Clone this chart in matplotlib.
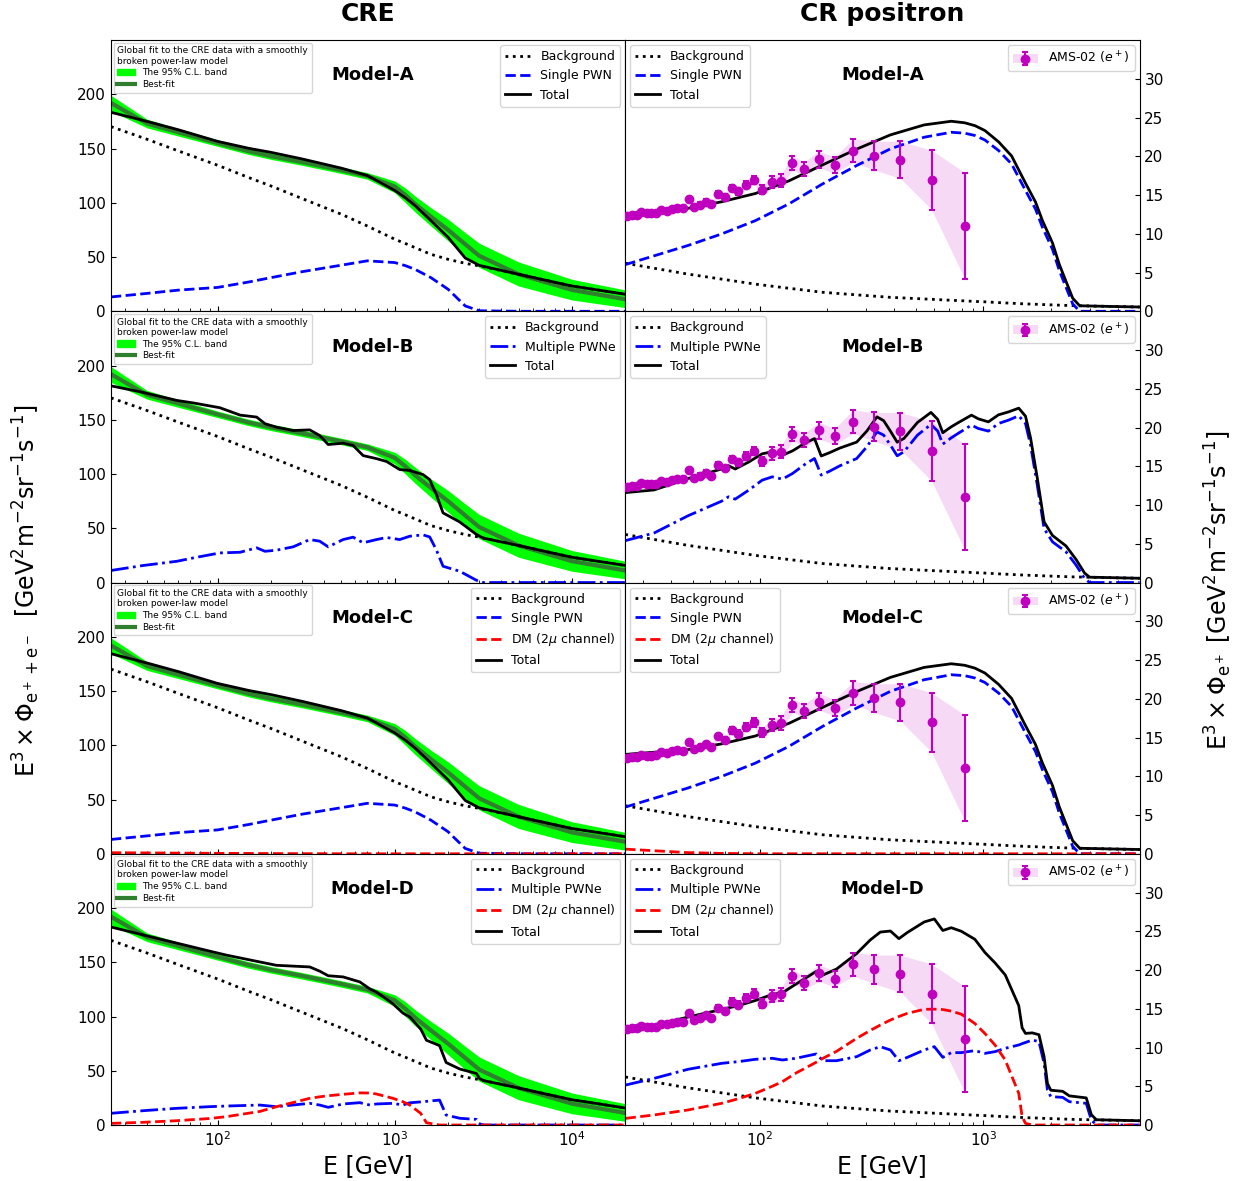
import matplotlib.pyplot as plt
import numpy as np
from matplotlib.patches import Patch
from matplotlib.lines import Line2D

# ---------------- CRE column (e+ + e-) ----------------
# smooth grid used for background, single PWN, DM (Model-C) and the global fit
e_cre = np.array([25, 40, 60, 100, 150, 200, 300, 500, 700, 1000, 1150, 1300,
                  1600, 2000, 2500, 3000, 5000, 10000, 20000])
cre_bg = np.array([170.2, 158.5, 147.8, 134.6, 123.2, 115.5, 103.9, 89.4, 78.6,
                   66.4, 62.4, 58.7, 52.5, 47.9, 44.2, 41.8, 34.1, 23.3, 15.7])
cre_pwn = np.array([13.2, 16.5, 19.5, 22.0, 27.0, 31.0, 36.5, 42.5, 46.5, 44.9,
                    42.0, 38.7, 31.0, 20.3, 4.9, 0.5, 0, 0, 0])
cre_dm_c = np.array([1.0, 0.8, 0.6, 0.4, 0.3, 0.2, 0.1, 0, 0, 0, 0, 0, 0, 0, 0,
                     0, 0, 0, 0])
fit_best = np.array([192, 173, 165, 155, 147.5, 143, 137.5, 130, 124.7, 114.9,
                     107, 99, 87.2, 75, 61.8, 51.1, 34.1, 19.7, 11.1])
fit_lo = np.array([184.5, 169, 161.5, 152, 144.5, 140, 134.5, 127, 121.7, 109.3,
                   100, 91.6, 78.6, 64.9, 51, 40.4, 23.3, 10.4, 3.4])
fit_hi = np.array([199, 177, 168.5, 158, 150.5, 146, 140.5, 133, 127.8, 120,
                   113.5, 106.3, 95.5, 84.8, 72.5, 62.7, 45.5, 29.5, 19.7])

# Model-B (multiple PWNe)
e_cre_b = np.array([25, 38, 59, 73, 103, 134, 166, 185, 215, 267, 331, 377, 421,
                    511, 582, 663, 788, 898, 1067, 1216, 1446, 1575, 1718, 1873,
                    2326, 2890, 3150, 5000, 10000, 20000])
cre_pwne_b = np.array([11.1, 15.7, 19.6, 22.7, 27.3, 27.9, 32.0, 28.8, 29.8,
                       32.9, 39.6, 38.1, 32.9, 39.6, 41.8, 36.6, 39.6, 41.5,
                       39.6, 42.7, 43.9, 42.0, 30.0, 15.0, 10.4, 2.1, 0, 0, 0, 0])
cre_bg_b = np.array([170.2, 159.5, 148.2, 142.8, 133.8, 126.4, 120.5, 117.6,
                     113.4, 107.2, 101.1, 97.4, 94.3, 88.8, 84.5, 80.4, 74.6,
                     70.1, 64.5, 60.6, 55.5, 52.8, 51.0, 49.2, 45.4, 42.3, 41.0,
                     34.1, 23.3, 15.7])

# Model-D (multiple PWNe + DM)
e_cre_d = np.array([25, 38, 59, 90, 112, 173, 215, 331, 377, 421, 511, 635, 724,
                    788, 977, 1111, 1216, 1400, 1510, 1790, 1950, 2330, 2890,
                    3020, 3200, 5000, 10000, 20000])
cre_pwne_d = np.array([10.8, 13.2, 15.4, 16.9, 17.5, 18.4, 16.9, 20.0, 18.4,
                       16.3, 19.4, 20.6, 18.4, 19.4, 20.0, 18.4, 20.5, 21.3,
                       21.8, 23.0, 9.2, 6.2, 5.2, 0.9, 0, 0, 0, 0])
cre_dm_d = np.array([1.5, 2.5, 4.0, 6.0, 7.7, 12.5, 16.9, 24.6, 26.0, 27.0,
                     28.3, 29.6, 29.5, 28.6, 24.6, 21.5, 18.4, 10.8, 2.1, 0, 0,
                     0, 0, 0, 0, 0, 0, 0])
cre_bg_d = np.array([170.2, 159.5, 148.2, 137.4, 131.4, 119.4, 113.4, 101.1,
                     97.4, 94.3, 88.8, 81.7, 77.5, 74.6, 67.1, 63.3, 60.6, 56.5,
                     54.2, 50.2, 48.4, 45.4, 42.3, 41.7, 40.8, 34.1, 23.3, 15.7])

# ---------------- positron column ----------------
e_pos = np.array([25, 47.6, 67.5, 95.6, 135, 191, 271, 384, 544, 719, 826, 918,
                  1017, 1171, 1339, 1545, 1712, 1839, 2040, 2189, 2345, 2513,
                  2700, 3500, 5000])
pos_bg = np.array([6.2, 4.8, 4.15, 3.5, 2.97, 2.45, 2.12, 1.8, 1.59, 1.42, 1.34,
                   1.27, 1.22, 1.12, 1.04, 0.95, 0.91, 0.87, 0.82, 0.79, 0.76,
                   0.73, 0.71, 0.64, 0.55])
pos_pwn = np.array([6.02, 8.48, 9.98, 11.7, 13.86, 16.44, 18.8, 20.96, 22.46,
                    23.1, 22.98, 22.68, 22.1, 20.74, 19.0, 15.58, 13.2, 10.84,
                    8.0, 5.25, 3.1, 0.95, 0, 0, 0])
pos_dm_c = np.array([0.6, 0.15, 0.05, 0, 0, 0, 0, 0, 0, 0, 0, 0, 0, 0, 0, 0, 0,
                     0, 0, 0, 0, 0, 0, 0, 0])

e_pos_b = np.array([25, 33.7, 47.7, 56.7, 67.5, 72.4, 77.6, 89.2, 102.5, 113.7,
                    126.3, 140.1, 161.1, 175.7, 188.3, 205.4, 228, 271.4, 301.2,
                    334.4, 358.4, 384.2, 411.9, 441.6, 507.5, 583.3, 625.4,
                    658.8, 718.8, 770.4, 885.4, 949.1, 1053.6, 1169.5, 1298.4,
                    1440.9, 1544.8, 1627.5, 1744.7, 1870.8, 2040, 2345, 2603,
                    2839, 2991, 5000])
pos_pwne_b = np.array([5.4, 6.4, 8.61, 9.55, 10.5, 11.06, 10.76, 11.92, 13.21,
                       13.64, 13.34, 14.07, 15.36, 16.0, 13.86, 14.37, 15.06,
                       16.0, 17.51, 19.45, 19.02, 17.73, 16.35, 16.87, 19.02,
                       20.4, 19.54, 17.86, 18.67, 19.23, 20.31, 19.88, 19.54,
                       20.52, 20.96, 21.51, 20.52, 17.73, 12.56, 6.97, 5.25,
                       3.96, 2.24, 0.52, 0, 0])
pos_bg_b = np.array([6.2, 5.55, 4.8, 4.47, 4.15, 4.02, 3.89, 3.63, 3.4, 3.24,
                     3.08, 2.92, 2.7, 2.57, 2.47, 2.39, 2.29, 2.12, 2.03, 1.93,
                     1.86, 1.8, 1.76, 1.72, 1.63, 1.55, 1.51, 1.47, 1.42, 1.38,
                     1.29, 1.25, 1.19, 1.12, 1.06, 0.99, 0.95, 0.93, 0.9, 0.86,
                     0.82, 0.76, 0.72, 0.70, 0.69, 0.55])

e_pos_d = np.array([25.1, 33.7, 47.7, 67.5, 80.3, 95.6, 113.7, 126.3, 145.1,
                    178.8, 191.7, 220.3, 271.4, 311.9, 346.2, 384.2, 419.2,
                    457.2, 544.0, 603.9, 658.8, 718.8, 797.6, 916.6, 1017.6,
                    1129.6, 1253.7, 1440.9, 1491.9, 1544.8, 1655.8, 1775,
                    1870.8, 1936.4, 2005, 2264.6, 2427.3, 2888.6, 3044, 3206,
                    5000])
pos_pwne_d = np.array([5.16, 6.02, 7.19, 7.96, 8.18, 8.48, 8.61, 8.39, 8.61,
                       9.17, 8.30, 8.30, 8.82, 9.68, 10.11, 9.68, 8.30, 8.73,
                       9.68, 10.11, 8.73, 9.34, 9.34, 9.60, 9.25, 9.47, 9.90,
                       10.33, 10.5, 10.65, 10.97, 10.76, 7.96, 4.52, 3.66, 3.57,
                       3.01, 2.80, 0.65, 0, 0])
pos_dm_d = np.array([0.86, 1.3, 1.94, 2.8, 3.4, 4.09, 5.0, 5.6, 6.7, 8.1, 8.61,
                     9.5, 11.19, 12.2, 12.9, 13.55, 14.0, 14.41, 14.93, 14.95,
                     14.9, 14.7, 14.3, 13.1, 11.8, 10.3, 8.39, 4.09, 1.08, 0.22,
                     0, 0, 0, 0, 0, 0, 0, 0, 0, 0, 0])
pos_bg_d = np.array([6.2, 5.55, 4.8, 4.15, 3.83, 3.5, 3.24, 3.08, 2.87, 2.55,
                     2.45, 2.32, 2.12, 1.99, 1.89, 1.8, 1.75, 1.7, 1.59, 1.53,
                     1.47, 1.42, 1.36, 1.27, 1.21, 1.14, 1.08, 0.99, 0.97, 0.95,
                     0.92, 0.89, 0.86, 0.85, 0.83, 0.78, 0.75, 0.70, 0.69, 0.68,
                     0.55])

# AMS-02 positron data
ams_e = np.array([25.5, 26.9, 28.1, 29.5, 31.2, 32.7, 34.4, 36.3, 38.4, 40.5,
                  42.6, 45.2, 48.0, 50.7, 54.0, 57.3, 60.8, 65.2, 69.9, 74.9,
                  80.3, 87.0, 93.9, 102.5, 112.9, 125, 140, 158, 184, 216, 262,
                  325, 426, 587, 826])
ams_f = np.array([12.35, 12.48, 12.48, 12.78, 12.65, 12.65, 12.69, 13.08, 13.0,
                  13.21, 13.34, 13.30, 14.46, 13.51, 13.77, 14.16, 13.81, 15.15,
                  14.72, 15.92, 15.49, 16.35, 16.95, 15.66, 16.65, 16.87, 19.19,
                  18.37, 19.62, 18.85, 20.74, 20.09, 19.54, 16.95, 11.06])
ams_err = np.array([0.2, 0.2, 0.2, 0.2, 0.2, 0.22, 0.22, 0.22, 0.24, 0.24, 0.25,
                    0.26, 0.28, 0.3, 0.3, 0.32, 0.33, 0.36, 0.38, 0.42, 0.45,
                    0.5, 0.55, 0.58, 0.8, 0.86, 0.9, 0.9, 1.08, 1.03, 1.51, 1.85,
                    2.39, 3.83, 6.84])

models = ['Model-A', 'Model-B', 'Model-C', 'Model-D']
fit_title = 'Global fit to the CRE data with a smoothly\nbroken power-law model'
bestfit_color = '#2f7f2f'

fig, axes = plt.subplots(4, 2, figsize=(12.44, 11.81), dpi=100)
fig.subplots_adjust(left=0.0892, right=0.916, top=0.9661, bottom=0.0474,
                    hspace=0, wspace=0)


def style_lines(row):
    # label and linestyle of the PWN component for each model
    if row in (0, 2):
        return 'Single PWN', '--'
    return 'Multiple PWNe', '-.'


for row in range(4):
    axl = axes[row, 0]
    axr = axes[row, 1]
    pwn_label, pwn_ls = style_lines(row)

    # ---------- left: CRE ----------
    axl.fill_between(e_cre, fit_lo, fit_hi, color='lime', lw=0, zorder=1)
    axl.plot(e_cre, fit_best, color=bestfit_color, lw=3, zorder=2)
    axl.plot(e_cre, cre_bg, ':', color='k', lw=2, label='Background', zorder=3)
    if row == 0:
        axl.plot(e_cre, cre_pwn, pwn_ls, color='b', lw=2, label=pwn_label)
        axl.plot(e_cre, cre_bg + cre_pwn, '-', color='k', lw=2, label='Total',
                 zorder=4)
    elif row == 1:
        axl.plot(e_cre_b, cre_pwne_b, pwn_ls, color='b', lw=2, label=pwn_label)
        axl.plot(e_cre_b, cre_bg_b + cre_pwne_b, '-', color='k', lw=2,
                 label='Total', zorder=4)
    elif row == 2:
        axl.plot(e_cre, cre_pwn, pwn_ls, color='b', lw=2, label=pwn_label)
        axl.plot(e_cre, cre_dm_c, '--', color='r', lw=2,
                 label=r'DM (2$\mu$ channel)')
        axl.plot(e_cre, cre_bg + cre_pwn + cre_dm_c, '-', color='k', lw=2,
                 label='Total', zorder=4)
    else:
        axl.plot(e_cre_d, cre_pwne_d, pwn_ls, color='b', lw=2, label=pwn_label)
        axl.plot(e_cre_d, cre_dm_d, '--', color='r', lw=2,
                 label=r'DM (2$\mu$ channel)')
        axl.plot(e_cre_d, cre_bg_d + cre_pwne_d + cre_dm_d, '-', color='k',
                 lw=2, label='Total', zorder=4)

    fit_handles = [Patch(color='lime'), Line2D([], [], color=bestfit_color, lw=3)]
    leg1 = axl.legend(fit_handles, ['The 95% C.L. band', 'Best-fit'],
                      loc='upper left', fontsize=6.5, title=fit_title,
                      title_fontsize=6.5, alignment='left', borderaxespad=0.3,
                      labelspacing=0.3)
    axl.add_artist(leg1)
    axl.legend(loc='upper right', fontsize=9, borderaxespad=0.4)

    axl.set_xscale('log')
    axl.set_xlim(25, 2e4)
    axl.set_ylim(0, 250)
    axl.set_yticks([0, 50, 100, 150, 200])
    axl.tick_params(which='both', direction='in', labelsize=11)
    axl.text(0.509, 0.87, models[row], transform=axl.transAxes, ha='center',
             va='center', fontsize=13, fontweight='bold')

    # ---------- right: positrons ----------
    axr.fill_between(ams_e, ams_f - ams_err, ams_f + ams_err, color='m',
                     alpha=0.15, lw=0, zorder=1)
    ebar = axr.errorbar(ams_e, ams_f, yerr=ams_err, fmt='o', color='m', ms=6,
                        capsize=2, elinewidth=1.5, capthick=1.5, zorder=5)
    axr.plot(e_pos, pos_bg, ':', color='k', lw=2, label='Background')
    if row == 0:
        axr.plot(e_pos, pos_pwn, pwn_ls, color='b', lw=2, label=pwn_label)
        axr.plot(e_pos, pos_bg + pos_pwn, '-', color='k', lw=2, label='Total')
    elif row == 1:
        axr.plot(e_pos_b, pos_pwne_b, pwn_ls, color='b', lw=2, label=pwn_label)
        axr.plot(e_pos_b, pos_bg_b + pos_pwne_b, '-', color='k', lw=2,
                 label='Total')
    elif row == 2:
        axr.plot(e_pos, pos_pwn, pwn_ls, color='b', lw=2, label=pwn_label)
        axr.plot(e_pos, pos_dm_c, '--', color='r', lw=2,
                 label=r'DM (2$\mu$ channel)')
        axr.plot(e_pos, pos_bg + pos_pwn + pos_dm_c, '-', color='k', lw=2,
                 label='Total')
    else:
        axr.plot(e_pos_d, pos_pwne_d, pwn_ls, color='b', lw=2, label=pwn_label)
        axr.plot(e_pos_d, pos_dm_d, '--', color='r', lw=2,
                 label=r'DM (2$\mu$ channel)')
        axr.plot(e_pos_d, pos_bg_d + pos_pwne_d + pos_dm_d, '-', color='k',
                 lw=2, label='Total')

    leg2 = axr.legend(loc='upper left', fontsize=9, borderaxespad=0.4)
    axr.add_artist(leg2)
    ams_patch = Patch(color='m', alpha=0.15, lw=0)
    axr.legend([(ams_patch, ebar)], [r'AMS-02 ($e^+$)'], loc='upper right',
               fontsize=9, borderaxespad=0.4)

    axr.set_xscale('log')
    axr.set_xlim(25, 5000)
    axr.set_ylim(0, 35)
    axr.set_yticks([0, 5, 10, 15, 20, 25, 30])
    axr.yaxis.tick_right()
    axr.tick_params(which='both', direction='in', labelsize=11)
    axr.text(0.5, 0.87, models[row], transform=axr.transAxes, ha='center',
             va='center', fontsize=13, fontweight='bold')

    if row < 3:
        axl.tick_params(labelbottom=False)
        axr.tick_params(labelbottom=False)

axes[0, 0].set_title('CRE', fontsize=18, fontweight='bold', pad=14)
axes[0, 1].set_title('CR positron', fontsize=18, fontweight='bold', pad=14)
axes[3, 0].set_xlabel('E [GeV]', fontsize=17)
axes[3, 1].set_xlabel('E [GeV]', fontsize=17)

fig.text(0.021, 0.5,
         r'$\mathrm{E}^3\times\Phi_{\mathrm{e}^+ + \mathrm{e}^-}$  '
         r'[GeV$^2$m$^{-2}$sr$^{-1}$s$^{-1}$]',
         rotation=90, ha='center', va='center', fontsize=17)
fig.text(0.979, 0.5,
         r'$\mathrm{E}^3\times\Phi_{\mathrm{e}^+}$ '
         r'[GeV$^2$m$^{-2}$sr$^{-1}$s$^{-1}$]',
         rotation=90, ha='center', va='center', fontsize=17)

fig.savefig('out.png', dpi=100)
